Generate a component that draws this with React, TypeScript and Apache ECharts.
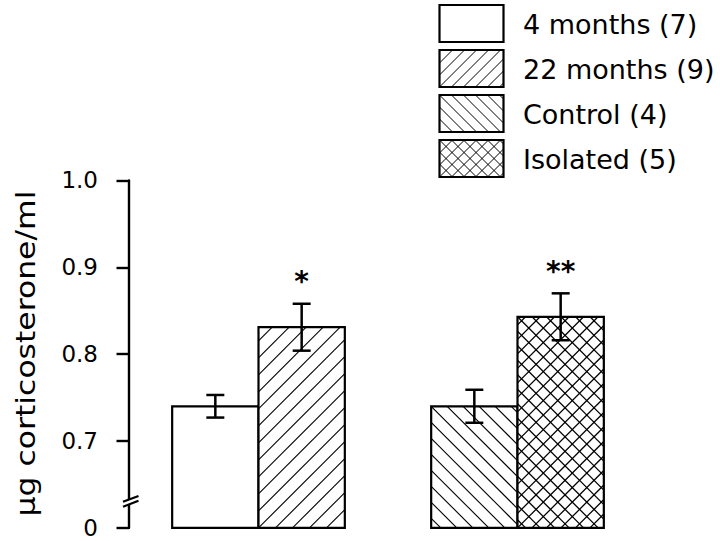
import { useEffect, useRef } from "react";
import * as echarts from "echarts";

// ---- data ----
const groups = ["Age", "Housing"];
const barLabels = ["4 months (7)", "22 months (9)", "Control (4)", "Isolated (5)"];
const barGroupIndex = [0, 0, 1, 1];
const barSlot = [0, 1, 0, 1];
const means = [0.74, 0.831, 0.74, 0.843];
const sems = [0.013, 0.027, 0.019, 0.027];
const hatches = ["none", "fwd", "back", "cross"];
const marks = ["", "*", "", "**"];
// the axis is broken: the lowest tick position stands for the true zero
const yTicks = [0.6, 0.7, 0.8, 0.9, 1.0];
const yTickLabels = ["0", "0.7", "0.8", "0.9", "1.0"];
const zeroPosition = 0.6;
const yTitle = "μg corticosterone/ml";

const FONT = "DejaVu Sans";

function hatchLines(x0: number, y0: number, x1: number, y1: number, dir: number, s: number) {
  const out: number[][] = [];
  if (dir === 1) {
    // "/" : x + y = c
    const cMin = x0 + y0, cMax = x1 + y1;
    const start = x0 + y1;
    const k = Math.ceil((cMin - start) / s);
    for (let c = start + k * s; c <= cMax + 0.01; c += s) {
      const xa = Math.max(x0, c - y1), xb = Math.min(x1, c - y0);
      if (xb - xa > 0.8) out.push([xa, c - xa, xb, c - xb]);
    }
  } else {
    // "\" : x - y = c
    const cMin = x0 - y1, cMax = x1 - y0;
    const start = x0 - y0;
    const k = Math.ceil((cMin - start) / s);
    for (let c = start + k * s; c <= cMax + 0.01; c += s) {
      const xa = Math.max(x0, c + y0), xb = Math.min(x1, c + y1);
      if (xb - xa > 0.8) out.push([xa, xa - c, xb, xb - c]);
    }
  }
  return out;
}

function patternElements(x0: number, y0: number, w: number, h: number, kind: string, s: number, lw: number) {
  const els: any[] = [];
  const push = (dir: number) =>
    hatchLines(x0, y0, x0 + w, y0 + h, dir, s).forEach((l) =>
      els.push({
        type: "line",
        shape: { x1: l[0], y1: l[1], x2: l[2], y2: l[3] },
        style: { stroke: "#000", lineWidth: lw },
      })
    );
  if (kind === "fwd" || kind === "cross") push(1);
  if (kind === "back" || kind === "cross") push(-1);
  return els;
}

export default function App() {
  const ref = useRef<HTMLDivElement>(null);
  useEffect(() => {
    const chart = echarts.init(ref.current!, null, { renderer: "svg" });

    const legendEls: any[] = [];
    barLabels.forEach((name, i) => {
      const bx = 439.5, by = 5 + i * 45, bw = 64, bh = 37;
      legendEls.push({
        type: "rect",
        shape: { x: bx, y: by, width: bw, height: bh },
        style: { fill: "#fff", stroke: "none" },
      });
      patternElements(bx, by, bw, bh, hatches[i], 12, 1).forEach((e) => legendEls.push(e));
      legendEls.push({
        type: "rect",
        shape: { x: bx, y: by, width: bw, height: bh },
        style: { fill: "none", stroke: "#000", lineWidth: 2.2 },
      });
      legendEls.push({
        type: "text",
        x: 523,
        y: by + bh / 2 + 1,
        style: {
          text: name,
          fill: "#000",
          font: `27px ${FONT}`,
          align: "left",
          verticalAlign: "middle",
          textAlign: "left",
          textVerticalAlign: "middle",
        },
      });
    });

    const option: any = {
      animation: false,
      backgroundColor: "#fff",
      grid: { left: 129, right: 73, top: 180.4, bottom: 13.1, containLabel: false },
      xAxis: { type: "category", data: groups, show: false },
      yAxis: {
        type: "value",
        min: 0.6,
        max: 1.0,
        interval: 0.1,
        splitLine: { show: false },
        axisLine: { show: true, lineStyle: { color: "#000", width: 2.4 } },
        axisTick: { show: true, length: 12.5, lineStyle: { color: "#000", width: 2.4 } },
        axisLabel: {
          margin: 31,
          color: "#000",
          fontFamily: FONT,
          fontSize: 23,
          padding: [4, 0, 0, 0],
          formatter: (v: number) => {
            let best = 0;
            yTicks.forEach((t, i) => {
              if (Math.abs(t - v) < Math.abs(yTicks[best] - v)) best = i;
            });
            return yTickLabels[best];
          },
        },
      },
      series: [
        {
          type: "custom",
          data: means.map((m, i) => [barGroupIndex[i], m, sems[i]]),
          encode: { x: 0, y: 1 },
          renderItem: (params: any, api: any) => {
            const idx = params.dataIndex;
            const g = api.value(0), m = api.value(1), e = api.value(2);
            const band = api.size([1, 0])[0];
            const bw = band / 3;
            const [cx, yTop] = api.coord([g, m]);
            const yBase = api.coord([g, zeroPosition])[1];
            const x0 = barSlot[idx] === 0 ? cx - bw : cx;
            const h = yBase - yTop;
            const kind = hatches[idx];
            const spacing = kind === "fwd" ? 17 : kind === "back" ? 16 : 14.5;
            const children: any[] = [
              { type: "rect", shape: { x: x0, y: yTop, width: bw, height: h }, style: { fill: "#fff" } },
              ...patternElements(x0, yTop, bw, h, kind, spacing, kind === "cross" ? 1.3 : 1.1),
              {
                type: "rect",
                shape: { x: x0, y: yTop, width: bw, height: h },
                style: { fill: "none", stroke: "#000", lineWidth: 2.2 },
              },
            ];
            const xm = x0 + bw / 2;
            const yHi = api.coord([g, m + e])[1];
            const yLo = api.coord([g, m - e])[1];
            const cap = 9;
            children.push(
              { type: "line", shape: { x1: xm, y1: yHi, x2: xm, y2: yLo }, style: { stroke: "#000", lineWidth: 2.5 } },
              { type: "line", shape: { x1: xm - cap, y1: yHi, x2: xm + cap, y2: yHi }, style: { stroke: "#000", lineWidth: 2.5 } },
              { type: "line", shape: { x1: xm - cap, y1: yLo, x2: xm + cap, y2: yLo }, style: { stroke: "#000", lineWidth: 2.5 } }
            );
            if (marks[idx]) {
              children.push({
                type: "text",
                x: xm,
                y: yHi - 22,
                style: {
                  text: marks[idx],
                  fill: "#000",
                  font: `bold 28px ${FONT}`,
                  align: "center",
                  verticalAlign: "middle",
                  textAlign: "center",
                  textVerticalAlign: "middle",
                },
              });
            }
            return { type: "group", children };
          },
        },
      ],
      graphic: [
        ...legendEls,
        {
          type: "text",
          x: 26,
          y: 353.5,
          rotation: Math.PI / 2,
          scaleX: 1.21,
          style: {
            text: yTitle,
            fill: "#000",
            font: `26px ${FONT}`,
            align: "center",
            verticalAlign: "middle",
            textAlign: "center",
            textVerticalAlign: "middle",
          },
        },
        {
          type: "polygon",
          z: 100,
          shape: { points: [[122, 502.5], [139, 496], [139, 500.5], [122, 507.3]] },
          style: { fill: "#fff", stroke: "none" },
        },
        {
          type: "line",
          z: 101,
          shape: { x1: 123, y1: 501.8, x2: 138.5, y2: 496 },
          style: { stroke: "#000", lineWidth: 2.2 },
        },
        {
          type: "line",
          z: 101,
          shape: { x1: 123, y1: 506.8, x2: 138.5, y2: 500.8 },
          style: { stroke: "#000", lineWidth: 2.2 },
        },
      ],
    };
    chart.setOption(option);
    return () => chart.dispose();
  }, []);
  return (
    <div
      ref={ref}
      style={{ position: "fixed", left: 0, top: 0, width: 720, height: 541, background: "#fff" }}
    />
  );
}
